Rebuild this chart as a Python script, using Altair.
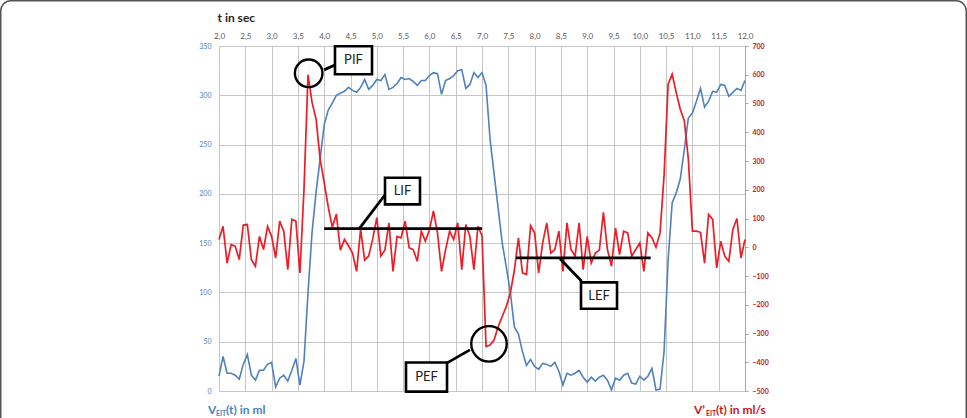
import altair as alt
import pandas as pd

# ---------------- data ----------------
# sampling times: 13 Hz from 2.0 s to 12.0 s
time_s = [round(2 + i / 13, 4) for i in range(131)]

volume_ml = [15, 35, 18, 18, 16, 12, 27, 37, 16, 11,
             21, 21, 27, 29, 4, 13, 16, 10, 21, 33,
             6, 30, 100, 161, 202, 236, 270, 285, 292, 300,
             302, 304, 308, 305, 303, 308, 316, 306, 310, 316,
             315, 321, 306, 308, 312, 318, 316, 317, 314, 310,
             315, 315, 320, 323, 322, 301, 315, 317, 320, 325,
             326, 307, 311, 323, 318, 323, 310, 255, 220, 185,
             150, 126, 100, 65, 58, 40, 26, 32, 25, 22,
             28, 27, 25, 29, 20, 6, 18, 16, 18, 21,
             14, 9, 14, 10, 14, 16, 11, 1, 13, 11,
             16, 18, 8, 7, 15, 11, 15, 23, 1, 2,
             40, 133, 191, 201, 215, 245, 277, 282, 294, 307,
             288, 294, 304, 303, 311, 310, 299, 303, 307, 305,
             315]

flow_mls = [27, 73, -55, 9, 4, -43, 77, 79, -43, -66,
            38, -8, 73, 38, -37, 91, 56, -78, 97, 91,
            -89, 200, 600, 504, 445, 306, 225, 140, 70, 115,
            -10, 27, 5, -20, -84, 62, -45, -30, 30, 103,
            -30, -10, 85, -84, 38, 33, 91, -2, -8, -49,
            56, 21, 60, 126, 50, -84, -8, 56, 27, 85,
            -78, 79, 38, -78, 73, 40, -345, -340, -322, -276,
            -241, -206, -159, -80, 33, -89, -95, 75, 50, -89,
            15, 85, -20, -8, 56, -84, 85, -8, -31, 85,
            -78, 38, -55, -20, -10, 121, -8, -66, 67, -26,
            56, 50, -31, -8, 15, -84, 50, 33, 0, 50,
            250, 567, 602, 538, 480, 440, 306, 56, 56, 52,
            -55, 114, 97, -72, 21, -31, -49, 62, 100, -37,
            27]

time_ticks = [2.0, 2.5, 3.0, 3.5, 4.0, 4.5, 5.0, 5.5, 6.0, 6.5, 7.0,
              7.5, 8.0, 8.5, 9.0, 9.5, 10.0, 10.5, 11.0, 11.5, 12.0]
volume_ticks = [0, 50, 100, 150, 200, 250, 300, 350]
flow_ticks = [-500, -400, -300, -200, -100, 0, 100, 200, 300, 400, 500, 600, 700]

# annotations (in data units: t in s, flow in ml/s)
box_labels = ["PIF", "LIF", "PEF", "LEF"]
box_t1 = [4.205, 5.156, 5.555, 8.882]
box_t2 = [4.909, 5.821, 6.335, 9.567]
box_f1 = [602, 149, -502, -214]
box_f2 = [699, 242, -401, -122]

circle_t = [3.705, 7.133]
circle_f = [605, -336]

seg_t1 = [4.0, 7.646, 3.997, 4.667, 8.483, 6.33]
seg_t2 = [7.0, 10.207, 4.205, 5.175, 8.895, 6.77]
seg_f1 = [65, -37, 617, 65, -40, -403]
seg_f2 = [65, -37, 634, 187, -118, -357]

# ---------------- chart ----------------
BLUE = "#4f81bd"
RED = "#ee1c25"
RED_TXT = "#c8171e"
GRID = "#c6c6c6"
FONT = "Lato"

W, H = 526, 345
PAD_L, PAD_T = 219, 46

df = pd.DataFrame({"t": time_s, "V": volume_ml, "F": flow_mls})
boxes = pd.DataFrame({"label": box_labels, "t": box_t1, "t2": box_t2,
                      "F": box_f1, "F2": box_f2})
boxes["tc"] = (boxes["t"] + boxes["t2"]) / 2
boxes["Fc"] = (boxes["F"] + boxes["F2"]) / 2
circles = pd.DataFrame({"t": circle_t, "F": circle_f})
segs = pd.DataFrame({"t": seg_t1, "t2": seg_t2, "F": seg_f1, "F2": seg_f2})

x_scale = alt.Scale(domain=[2, 12], nice=False, zero=False)
x_axis = alt.Axis(
    orient="top", values=time_ticks,
    labelExpr="replace(format(datum.value, '.1f'), '.', ',')",
    grid=True, gridColor=GRID, gridWidth=1, ticks=False, domain=False,
    labelFont=FONT, labelFontSize=8, labelColor="#595959", labelPadding=6,
    labelFlush=False, labelOverlap=False, labelBound=False,
    title="t in sec", titleFont=FONT, titleFontSize=12, titleFontWeight="bold",
    titleColor="#262626", titleAnchor="start", titleAlign="left",
    titleX=-2, titleY=-25, titleBaseline="alphabetic",
)
X = alt.X("t:Q", scale=x_scale, axis=x_axis)
X2 = alt.X2("t2:Q")

v_scale = alt.Scale(domain=[0, 350], nice=False, zero=False)
v_axis = alt.Axis(values=volume_ticks, grid=True, gridColor=GRID, gridWidth=1,
                  ticks=False, domain=False, labelFont=FONT, labelFontSize=7,
                  labelColor=BLUE, labelPadding=8, title=None)

f_scale = alt.Scale(domain=[-500, 700], nice=False, zero=False)
f_axis = alt.Axis(orient="right", values=flow_ticks, grid=False, ticks=True,
                  tickSize=3, tickColor="#a6a6a6", domain=True,
                  domainColor="#a6a6a6", labelFont=FONT, labelFontSize=7,
                  labelFontWeight="bold", labelColor=RED_TXT, labelPadding=4,
                  title=None)
Y = alt.Y("F:Q", scale=f_scale, axis=f_axis)
Y2 = alt.Y2("F2:Q")

blue = alt.Chart(df).mark_line(color=BLUE, strokeWidth=1.6).encode(
    x=X, y=alt.Y("V:Q", scale=v_scale, axis=v_axis))

red = alt.Chart(df).mark_line(color=RED, strokeWidth=1.7).encode(x=X, y=Y)

rules = alt.Chart(segs).mark_rule(color="black", strokeWidth=2.8).encode(
    x=X, x2=X2, y=Y, y2=Y2)

rects = alt.Chart(boxes).mark_rect(fill="white", stroke="black",
                                   strokeWidth=2.6).encode(x=X, x2=X2, y=Y, y2=Y2)

rect_text = alt.Chart(boxes).mark_text(font=FONT, fontSize=13, color="#222222",
                                       baseline="middle", align="center").encode(
    x=alt.X("tc:Q", scale=x_scale, axis=x_axis),
    y=alt.Y("Fc:Q", scale=f_scale, axis=f_axis),
    text="label:N")

circ_pif = alt.Chart(circles.iloc[[0]]).mark_point(
    shape="circle", filled=False, color="black", strokeWidth=2.4, size=760,
    opacity=1).encode(x=X, y=Y)
circ_pef = alt.Chart(circles.iloc[[1]]).mark_point(
    shape="circle", filled=False, color="black", strokeWidth=2.4, size=1260,
    opacity=1).encode(x=X, y=Y)

flow_layer = alt.layer(red, rules, rects, rect_text, circ_pif, circ_pef)

dummy = pd.DataFrame({"a": [0]})


def txt(s, x_abs, y_abs, size, color, weight="bold"):
    return alt.Chart(dummy).mark_text(
        text=s, font=FONT, fontSize=size, fontWeight=weight, color=color,
        align="left", baseline="alphabetic").encode(
        x=alt.value(x_abs - PAD_L), y=alt.value(y_abs - PAD_T))


titles = alt.layer(
    txt("V", 208, 414, 12, BLUE),
    txt("EIT", 216, 416, 7, BLUE),
    txt("(t) in ml", 226, 414, 12, BLUE),
    txt("V\u2019", 694, 414, 12, RED_TXT),
    txt("EIT", 706, 416, 7, RED_TXT),
    txt("(t) in ml/s", 716, 414, 12, RED_TXT),
)

border = alt.Chart(dummy).mark_rect(
    fill="white", fillOpacity=0, stroke="#555555", strokeWidth=1.5,
    cornerRadius=10).encode(
    x=alt.value(0.75 - PAD_L), x2=alt.value(966.25 - PAD_L),
    y=alt.value(0.75 - PAD_T), y2=alt.value(440 - PAD_T))

chart = alt.layer(border, blue, flow_layer, titles).resolve_scale(
    y="independent"
).properties(
    width=W, height=H,
    autosize=alt.AutoSizeParams(type="none"),
    padding={"left": PAD_L, "top": PAD_T, "right": 967 - PAD_L - W,
             "bottom": 418 - PAD_T - H},
    background="white",
).configure_view(stroke=None)

chart.save("out.html", embed_options={"renderer": "svg", "actions": False})
